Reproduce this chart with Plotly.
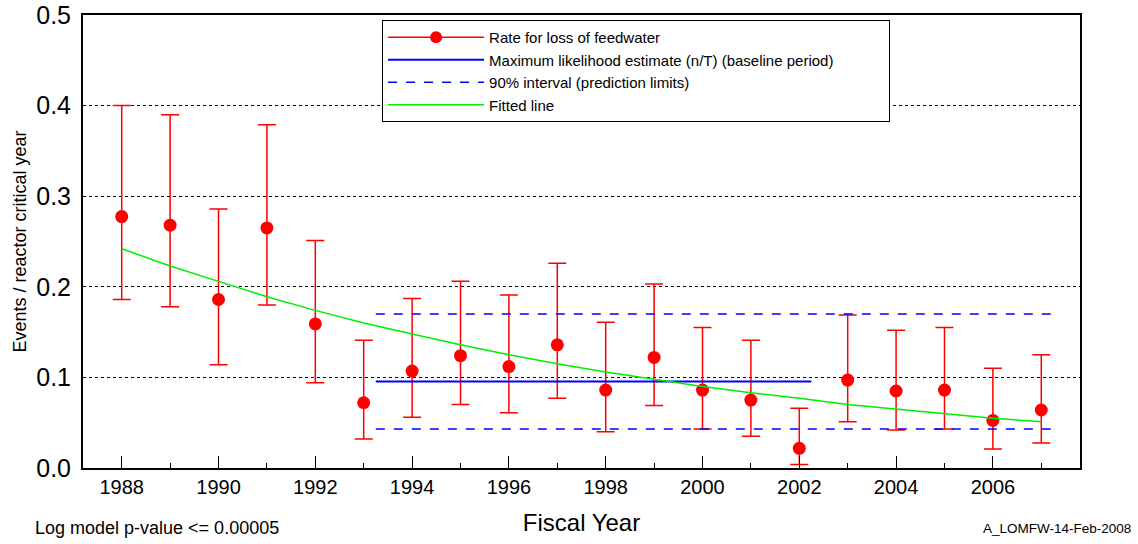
import plotly.graph_objects as go

FONT = "Arial, Liberation Sans, sans-serif"

years = list(range(1988, 2008))
rate = [0.2775, 0.268, 0.186, 0.265, 0.159, 0.072, 0.107, 0.124, 0.112, 0.136,
        0.086, 0.122, 0.086, 0.075, 0.0217, 0.097, 0.085, 0.086, 0.0525, 0.064]
upper = [0.400, 0.390, 0.286, 0.379, 0.251, 0.141, 0.187, 0.206, 0.191, 0.226,
         0.161, 0.203, 0.155, 0.141, 0.066, 0.169, 0.152, 0.155, 0.110, 0.125]
lower = [0.186, 0.178, 0.114, 0.180, 0.094, 0.032, 0.056, 0.070, 0.061, 0.077,
         0.040, 0.069, 0.043, 0.035, 0.004, 0.051, 0.042, 0.043, 0.021, 0.0275]
fitted = [0.242, 0.223, 0.206, 0.189, 0.174, 0.160, 0.148, 0.136, 0.125, 0.115,
          0.106, 0.098, 0.090, 0.083, 0.077, 0.070, 0.065, 0.060, 0.055, 0.051]

baseline_x = [1993.25, 2002.25]
mle = 0.0955
pred_x = [1993.25, 2007.25]
pred_lo = 0.043
pred_hi = 0.170

err_plus = [u - r for u, r in zip(upper, rate)]
err_minus = [r - l for r, l in zip(rate, lower)]

NBSP = "\u00a0"

fig = go.Figure()

fig.add_trace(go.Scatter(
    x=years, y=rate, mode="markers", showlegend=False,
    marker=dict(color="#ff0000", size=13),
    error_y=dict(type="data", symmetric=False, array=err_plus, arrayminus=err_minus,
                 color="#ff0000", thickness=1.5, width=9),
))
fig.add_trace(go.Scatter(
    x=[None], y=[None], mode="lines+markers", name="Rate for loss of feedwater",
    line=dict(color="#ff0000", width=1.5), marker=dict(color="#ff0000", size=12),
))
fig.add_trace(go.Scatter(
    x=baseline_x, y=[mle, mle], mode="lines",
    # trailing spaces widen the legend box a little, like the original
    name="Maximum likelihood estimate (n/T) (baseline period)" + NBSP * 12,
    line=dict(color="#0000ff", width=2),
))
fig.add_trace(go.Scatter(
    x=pred_x, y=[pred_hi, pred_hi], mode="lines",
    name="90% interval (prediction limits)",
    line=dict(color="#0000ff", width=1.5, dash="dash"),
))
fig.add_trace(go.Scatter(
    x=pred_x, y=[pred_lo, pred_lo], mode="lines", showlegend=False,
    line=dict(color="#0000ff", width=1.5, dash="dash"),
))
fig.add_trace(go.Scatter(
    x=years, y=fitted, mode="lines", name="Fitted line",
    line=dict(color="#00ee00", width=1.5),
))

fig.update_layout(
    width=1138, height=544,
    margin=dict(l=83, r=58, t=15, b=76, autoexpand=False),
    paper_bgcolor="white", plot_bgcolor="white",
    font=dict(family=FONT, color="black"),
    legend=dict(
        x=0.3, y=0.989, xanchor="left", yanchor="top",
        bordercolor="black", borderwidth=1, bgcolor="white",
        font=dict(size=15), tracegroupgap=0, itemwidth=96,
    ),
    xaxis=dict(
        range=[1987.2, 2007.8], tickmode="linear", tick0=1988, dtick=2,
        ticks="inside", ticklen=12, tickcolor="black",
        minor=dict(dtick=1, ticks="inside", ticklen=5, tickcolor="black"),
        showgrid=False, zeroline=False, automargin=False,
        showline=True, linecolor="black", linewidth=2, mirror=True,
        tickfont=dict(size=20),
        title=dict(text="Fiscal Year", font=dict(size=24), standoff=17),
    ),
    yaxis=dict(
        range=[0, 0.5], tickmode="linear", tick0=0, dtick=0.1, tickformat=".1f",
        showgrid=True, gridcolor="black", griddash="dot", gridwidth=1,
        zeroline=False, ticks="", automargin=False, ticklabelstandoff=5,
        showline=True, linecolor="black", linewidth=2, mirror=True,
        tickfont=dict(size=25),
        title=dict(text="Events / reactor critical year", font=dict(size=18), standoff=5),
    ),
    annotations=[
        dict(text="Log model p-value <= 0.00005", xref="paper", yref="paper",
             x=-0.050, y=-0.132, xanchor="left", yanchor="middle",
             showarrow=False, font=dict(size=18)),
        dict(text="A_LOMFW-14-Feb-2008", xref="paper", yref="paper",
             x=1.053, y=-0.134, xanchor="right", yanchor="middle",
             showarrow=False, font=dict(size=13.5)),
    ],
)

# drop the browser's default body margin so the figure sits at the window origin
fig.write_html("out.html", config={"displayModeBar": False},
               post_script="document.body.style.margin = '0px';")
